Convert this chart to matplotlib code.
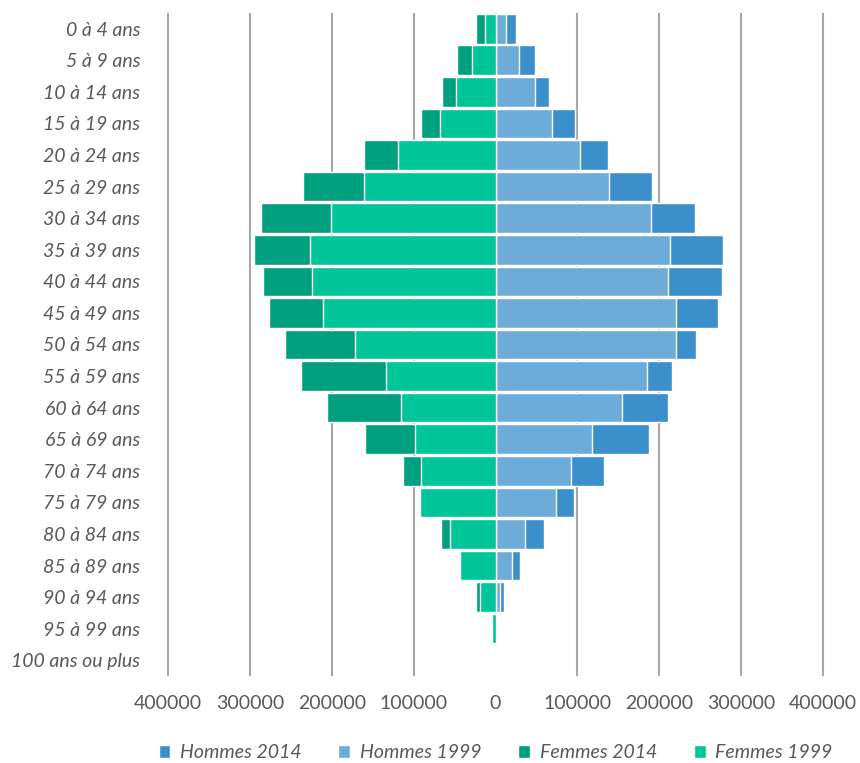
import matplotlib.pyplot as plt
import numpy as np

# age groups, top to bottom
ages = ['0 à 4 ans', '5 à 9 ans', '10 à 14 ans', '15 à 19 ans', '20 à 24 ans',
        '25 à 29 ans', '30 à 34 ans', '35 à 39 ans', '40 à 44 ans', '45 à 49 ans',
        '50 à 54 ans', '55 à 59 ans', '60 à 64 ans', '65 à 69 ans', '70 à 74 ans',
        '75 à 79 ans', '80 à 84 ans', '85 à 89 ans', '90 à 94 ans', '95 à 99 ans',
        '100 ans ou plus']

hommes_2014 = [25200, 48000, 65900, 97200, 137800, 190700, 243500, 278000, 276800, 271500,
               244700, 215000, 210100, 187000, 132500, 95500, 59300, 30100, 10600, 1200, 200]
hommes_1999 = [13000, 28400, 48000, 68700, 103300, 139000, 189400, 212600, 210600, 220300,
               220300, 184500, 154000, 117900, 92300, 74000, 35400, 20700, 5300, 500, 100]
femmes_2014 = [24400, 47200, 65500, 90600, 160600, 235000, 286200, 295500, 283800, 277200,
               257000, 237800, 205300, 158900, 113000, 88000, 67100, 42000, 24400, 3500, 300]
femmes_1999 = [13000, 28400, 48000, 68300, 118700, 161000, 201200, 226000, 224000, 210600,
               172000, 133300, 115000, 98400, 91500, 92700, 55300, 43900, 19500, 4000, 300]

ticks = [-400000, -300000, -200000, -100000, 0, 100000, 200000, 300000, 400000]

plt.rcParams['font.family'] = ['Lato', 'DejaVu Sans']
text_col = '#595959'

fig = plt.figure(figsize=(8.6, 7.63), dpi=100)
ax = fig.add_axes([0.1906, 0.114, 0.7712, 0.869])

y = np.arange(len(ages))
h = 0.94

# gridlines behind the bars
for t in ticks:
    if t == 0:
        ax.axvline(t, color='#d9d9d9', lw=1.5, zorder=0)
    else:
        ax.axvline(t, color='#a6a6a6', lw=1.5, zorder=0)

# 2014 behind, 1999 in front (overlapped bars)
ax.barh(y, hommes_2014, height=h, color='#3b8fcb', edgecolor='white', lw=1, zorder=2, label='Hommes 2014')
ax.barh(y, hommes_1999, height=h, color='#6dacd8', edgecolor='white', lw=1, zorder=3, label='Hommes 1999')
ax.barh(y, -np.array(femmes_2014), height=h, color='#00a07e', edgecolor='white', lw=1, zorder=2, label='Femmes 2014')
ax.barh(y, -np.array(femmes_1999), height=h, color='#00c49a', edgecolor='white', lw=1, zorder=3, label='Femmes 1999')

ax.set_xlim(-405000, 405000)
ax.set_ylim(len(ages) - 0.5, -0.5)
ax.set_xticks(ticks)
ax.set_xticklabels([str(abs(t)) for t in ticks], fontsize=14, color=text_col)
ax.set_yticks(y)
ax.set_yticklabels(ages, fontsize=14, style='italic', color=text_col)
ax.tick_params(length=0)
ax.tick_params(axis='y', pad=17)
ax.tick_params(axis='x', pad=14)
for s in ax.spines.values():
    s.set_visible(False)

leg = ax.legend(loc='lower center', bbox_to_anchor=(0.5, -0.155), ncol=4, frameon=False,
                handlelength=0.6, handleheight=0.6, columnspacing=1.9, handletextpad=0.5,
                prop={'size': 14, 'style': 'italic'})
for t in leg.get_texts():
    t.set_color(text_col)

fig.savefig('out.png', dpi=100)
